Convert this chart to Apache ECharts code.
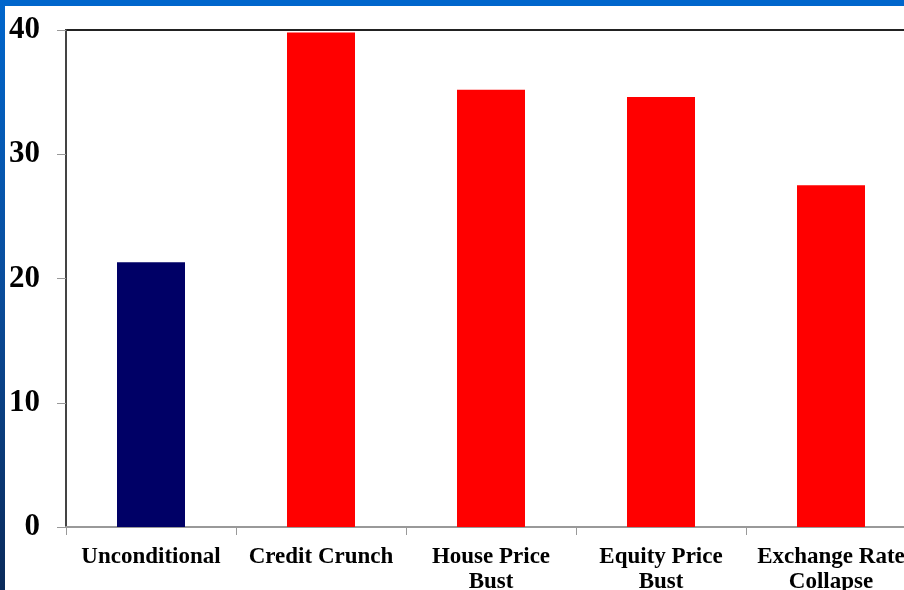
<!DOCTYPE html>
<html>
<head>
<meta charset="utf-8">
<script src="https://cdn.jsdelivr.net/npm/echarts@6/dist/echarts.min.js"></script>
<style>
  html, body { margin: 0; padding: 0; background: #fff; }
  #chart { width: 904px; height: 590px; }
</style>
</head>
<body>
<div id="chart"></div>
<script>
var categories = ['Unconditional', 'Credit Crunch', 'House Price\nBust', 'Equity Price\nBust', 'Exchange Rate\nCollapse'];
var values = [21.3, 39.8, 35.2, 34.6, 27.5];
var barColors = ['#000066', '#ff0000', '#ff0000', '#ff0000', '#ff0000'];
var yTicks = [0, 10, 20, 30, 40];

var myChart = echarts.init(document.getElementById('chart'));
var option = {
    backgroundColor: '#ffffff',
    animation: false,
    graphic: [
        {
            type: 'rect',
            shape: {x: 0, y: 0, width: 904, height: 6},
            style: {fill: '#0066cc'},
            z: 10
        },
        {
            type: 'rect',
            shape: {x: 0, y: 0, width: 5, height: 590},
            style: {
                fill: new echarts.graphic.LinearGradient(0, 0, 0, 1, [
                    {offset: 0, color: '#0066cc'},
                    {offset: 0.5, color: '#0a4c9a'},
                    {offset: 1, color: '#0a2a5a'}
                ])
            },
            z: 10
        }
    ],
    grid: {
        left: 66,
        top: 30,
        width: 850,
        height: 497,
        outerBoundsMode: 'none',
        containLabel: false,
        show: true,
        borderColor: '#222',
        borderWidth: 2,
        backgroundColor: 'transparent'
    },
    xAxis: {
        type: 'category',
        data: categories,
        axisLine: {lineStyle: {color: '#999', width: 2}},
        axisTick: {show: true, length: 8, inside: false, alignWithLabel: false, lineStyle: {color: '#999', width: 1}},
        axisLabel: {
            interval: 0,
            margin: 18,
            color: '#000',
            fontFamily: 'Liberation Serif',
            fontWeight: 'bold',
            fontSize: 23,
            lineHeight: 25
        },
        splitLine: {show: false}
    },
    yAxis: {
        type: 'value',
        min: yTicks[0],
        max: yTicks[yTicks.length - 1],
        interval: 10,
        axisLine: {show: true, lineStyle: {color: '#444', width: 2}},
        axisTick: {show: true, length: 9, lineStyle: {color: '#999', width: 1}},
        axisLabel: {
            margin: 26,
            color: '#000',
            fontFamily: 'Liberation Serif',
            fontWeight: 'bold',
            fontSize: 31
        },
        splitLine: {show: false}
    },
    series: [{
        type: 'bar',
        barWidth: '40%',
        data: values.map(function (v, i) {
            return {value: v, itemStyle: {color: barColors[i]}};
        })
    }]
};
myChart.setOption(option);
</script>
</body>
</html>
